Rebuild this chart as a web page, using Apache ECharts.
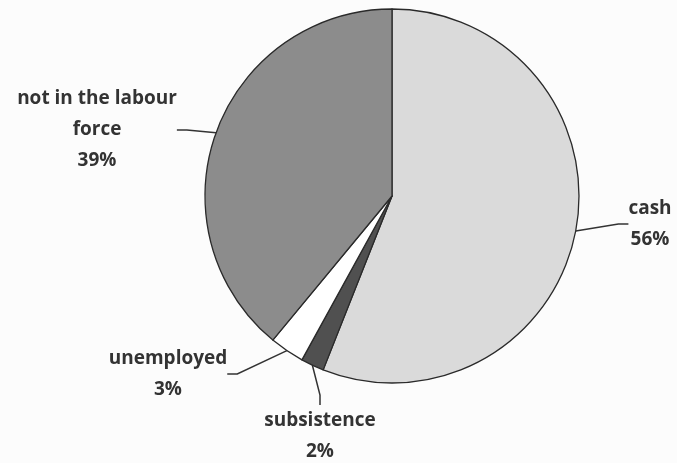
<!DOCTYPE html>
<html>
<head>
<meta charset="utf-8">
<script src="https://cdn.jsdelivr.net/npm/echarts@6/dist/echarts.min.js"></script>
<style>
html,body{margin:0;padding:0;background:#fcfcfc;}
#chart{width:677px;height:463px;}
</style>
</head>
<body>
<div id="chart"></div>
<script>
const categories = ["cash", "subsistence", "unemployed", "not in the labour\nforce"];
const values = [56, 2, 3, 39];
const sliceColors = ["#dadada", "#505050", "#ffffff", "#8c8c8c"];
const labelPos = [
  {x: 650, y: 224},
  {x: 320, y: 436},
  {x: 168, y: 374},
  {x: 97, y: 130}
];

const chart = echarts.init(document.getElementById('chart'));
chart.setOption({
  backgroundColor: '#fcfcfc',
  animation: false,
  series: [{
    type: 'pie',
    center: [392, 196],
    radius: 187,
    startAngle: 90,
    clockwise: true,
    avoidLabelOverlap: false,
    itemStyle: {borderColor: '#2a2a2a', borderWidth: 1.3},
    label: {
      show: true,
      position: 'outside',
      formatter: p => p.name + '\n' + p.value + '%',
      fontFamily: 'Open Sans',
      fontWeight: 700,
      fontSize: 19,
      lineHeight: 31,
      color: '#333',
      align: 'center'
    },
    labelLine: {show: true, length: 15, length2: 10, lineStyle: {color: '#333', width: 1.5}},
    labelLayout: function (params) {
      const p = labelPos[params.dataIndex];
      return {x: p.x, y: p.y, align: 'center', verticalAlign: 'middle'};
    },
    data: categories.map((c, i) => ({name: c, value: values[i], itemStyle: {color: sliceColors[i]}}))
  }]
});
</script>
</body>
</html>
